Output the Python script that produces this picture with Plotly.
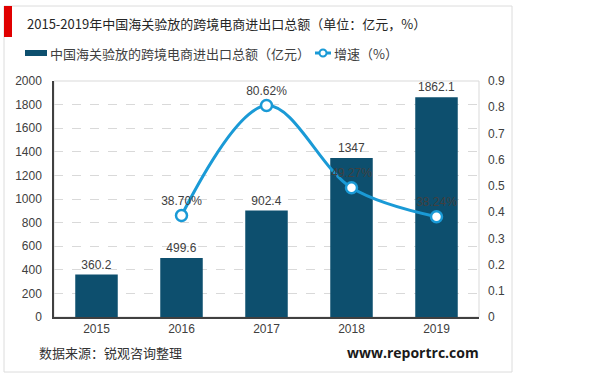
import plotly.graph_objects as go

years = ["2015", "2016", "2017", "2018", "2019"]
totals = [360.2, 499.6, 902.4, 1347, 1862.1]
total_labels = ["360.2", "499.6", "902.4", "1347", "1862.1"]
growth_years = ["2016", "2017", "2018", "2019"]
growth = [0.3870, 0.8062, 0.4927, 0.3824]
growth_labels = ["38.70%", "80.62%", "49.27%", "38.24%"]

title_text = "2015-2019年中国海关验放的跨境电商进出口总额（单位：亿元，%）"
legend_bar = "中国海关验放的跨境电商进出口总额（亿元）"
legend_line = "增速（%）"
source_text = "数据来源：锐观咨询整理"
site_text = "www.reportrc.com"

FONT = "Liberation Sans, Arial, Noto Sans CJK SC, sans-serif"
CJK = "Noto Sans CJK SC, Liberation Sans, sans-serif"
BAR_C = "#0d4f6e"
LINE_C = "#1a9ad6"

fig = go.Figure()
fig.add_trace(go.Bar(
    x=years, y=totals, text=total_labels, textposition="outside",
    textfont=dict(size=12, color="#404040", family=FONT),
    marker=dict(color=BAR_C, line=dict(width=0)), cliponaxis=False,
    showlegend=False, yaxis="y"))
fig.add_trace(go.Scatter(
    x=growth_years, y=growth, text=growth_labels, mode="lines+markers+text",
    textposition="top center", textfont=dict(size=12, color="#404040", family=FONT),
    line=dict(color=LINE_C, width=3, shape="spline", smoothing=1.0),
    marker=dict(size=11, color="white", line=dict(color=LINE_C, width=2.5)),
    cliponaxis=False, showlegend=False, yaxis="y2"))

L, R, T, B = 54, 479, 81, 317
W, H = 600, 377
pw, ph = R - L, B - T

def px(x):
    return (x - L) / pw

def py(y):
    return (B - y) / ph

shapes = [
    # card border
    dict(type="rect", xref="paper", yref="paper", x0=px(4), x1=px(512), y0=py(6), y1=py(372),
         line=dict(color="#dcdcdc", width=1), fillcolor="rgba(0,0,0,0)", layer="below"),
    # red accent
    dict(type="rect", xref="paper", yref="paper", x0=px(4), x1=px(12), y0=py(6), y1=py(37),
         line=dict(width=0), fillcolor="#e00000"),
    # plot frame
    dict(type="rect", xref="paper", yref="paper", x0=0, x1=1, y0=0, y1=1,
         line=dict(color="#d9d9d9", width=1), layer="below"),
    # legend swatches
    dict(type="rect", xref="paper", yref="paper", x0=px(25), x1=px(47), y0=py(56), y1=py(50),
         line=dict(width=0), fillcolor=BAR_C),
    dict(type="line", xref="paper", yref="paper", x0=px(315), x1=px(331), y0=py(53), y1=py(53),
         line=dict(color=LINE_C, width=3)),
    dict(type="circle", xref="paper", yref="paper", x0=px(319.5), x1=px(326.5), y0=py(56.5), y1=py(49.5),
         line=dict(color=LINE_C, width=2), fillcolor="white"),
]

annotations = [
    dict(text=title_text, xref="paper", yref="paper", x=px(25), y=py(23), xanchor="left",
         yanchor="middle", showarrow=False, font=dict(size=13, color="#262626", family=CJK)),
    dict(text=legend_bar, xref="paper", yref="paper", x=px(48), y=py(53), xanchor="left",
         yanchor="middle", showarrow=False, font=dict(size=13, color="#404040", family=CJK)),
    dict(text=legend_line, xref="paper", yref="paper", x=px(332), y=py(53), xanchor="left",
         yanchor="middle", showarrow=False, font=dict(size=13, color="#404040", family=CJK)),
    dict(text=source_text, xref="paper", yref="paper", x=px(37), y=py(352), xanchor="left",
         yanchor="middle", showarrow=False, font=dict(size=13, color="#333333", family=CJK)),
    dict(text="<b>" + site_text + "</b>", xref="paper", yref="paper", x=px(481), y=py(352),
         xanchor="right", yanchor="middle", showarrow=False,
         font=dict(size=14, color="#1a1a1a", family="Open Sans, Liberation Sans, sans-serif")),
]

fig.update_layout(
    width=W, height=H, margin=dict(l=L, r=W - R, t=T, b=H - B, autoexpand=False),
    paper_bgcolor="white", plot_bgcolor="white",
    font=dict(family=FONT, size=12, color="#595959"),
    bargap=0.5,
    xaxis=dict(type="category", categoryorder="array", categoryarray=years,
               showline=True, linecolor="#404040", linewidth=1.5, ticks="",
               tickfont=dict(size=12, color="#404040"), showgrid=False),
    yaxis=dict(range=[0, 2000], dtick=200, showgrid=True, gridcolor="#d9d9d9",
               griddash="dash", gridwidth=1, showline=True, linecolor="#404040", linewidth=1.5,
               tickfont=dict(size=12, color="#404040"), zeroline=False, ticklen=0, ticks="",
               ticklabelstandoff=8),
    yaxis2=dict(range=[0, 0.9], dtick=0.1, overlaying="y", side="right", showgrid=False,
                zeroline=False, tickfont=dict(size=12, color="#404040"), ticks="",
                ticklabelstandoff=8),
    shapes=shapes, annotations=annotations,
)

fig.write_html("out.html", config={"displayModeBar": False},
               post_script="document.body.style.margin='0';document.body.style.padding='0';")
